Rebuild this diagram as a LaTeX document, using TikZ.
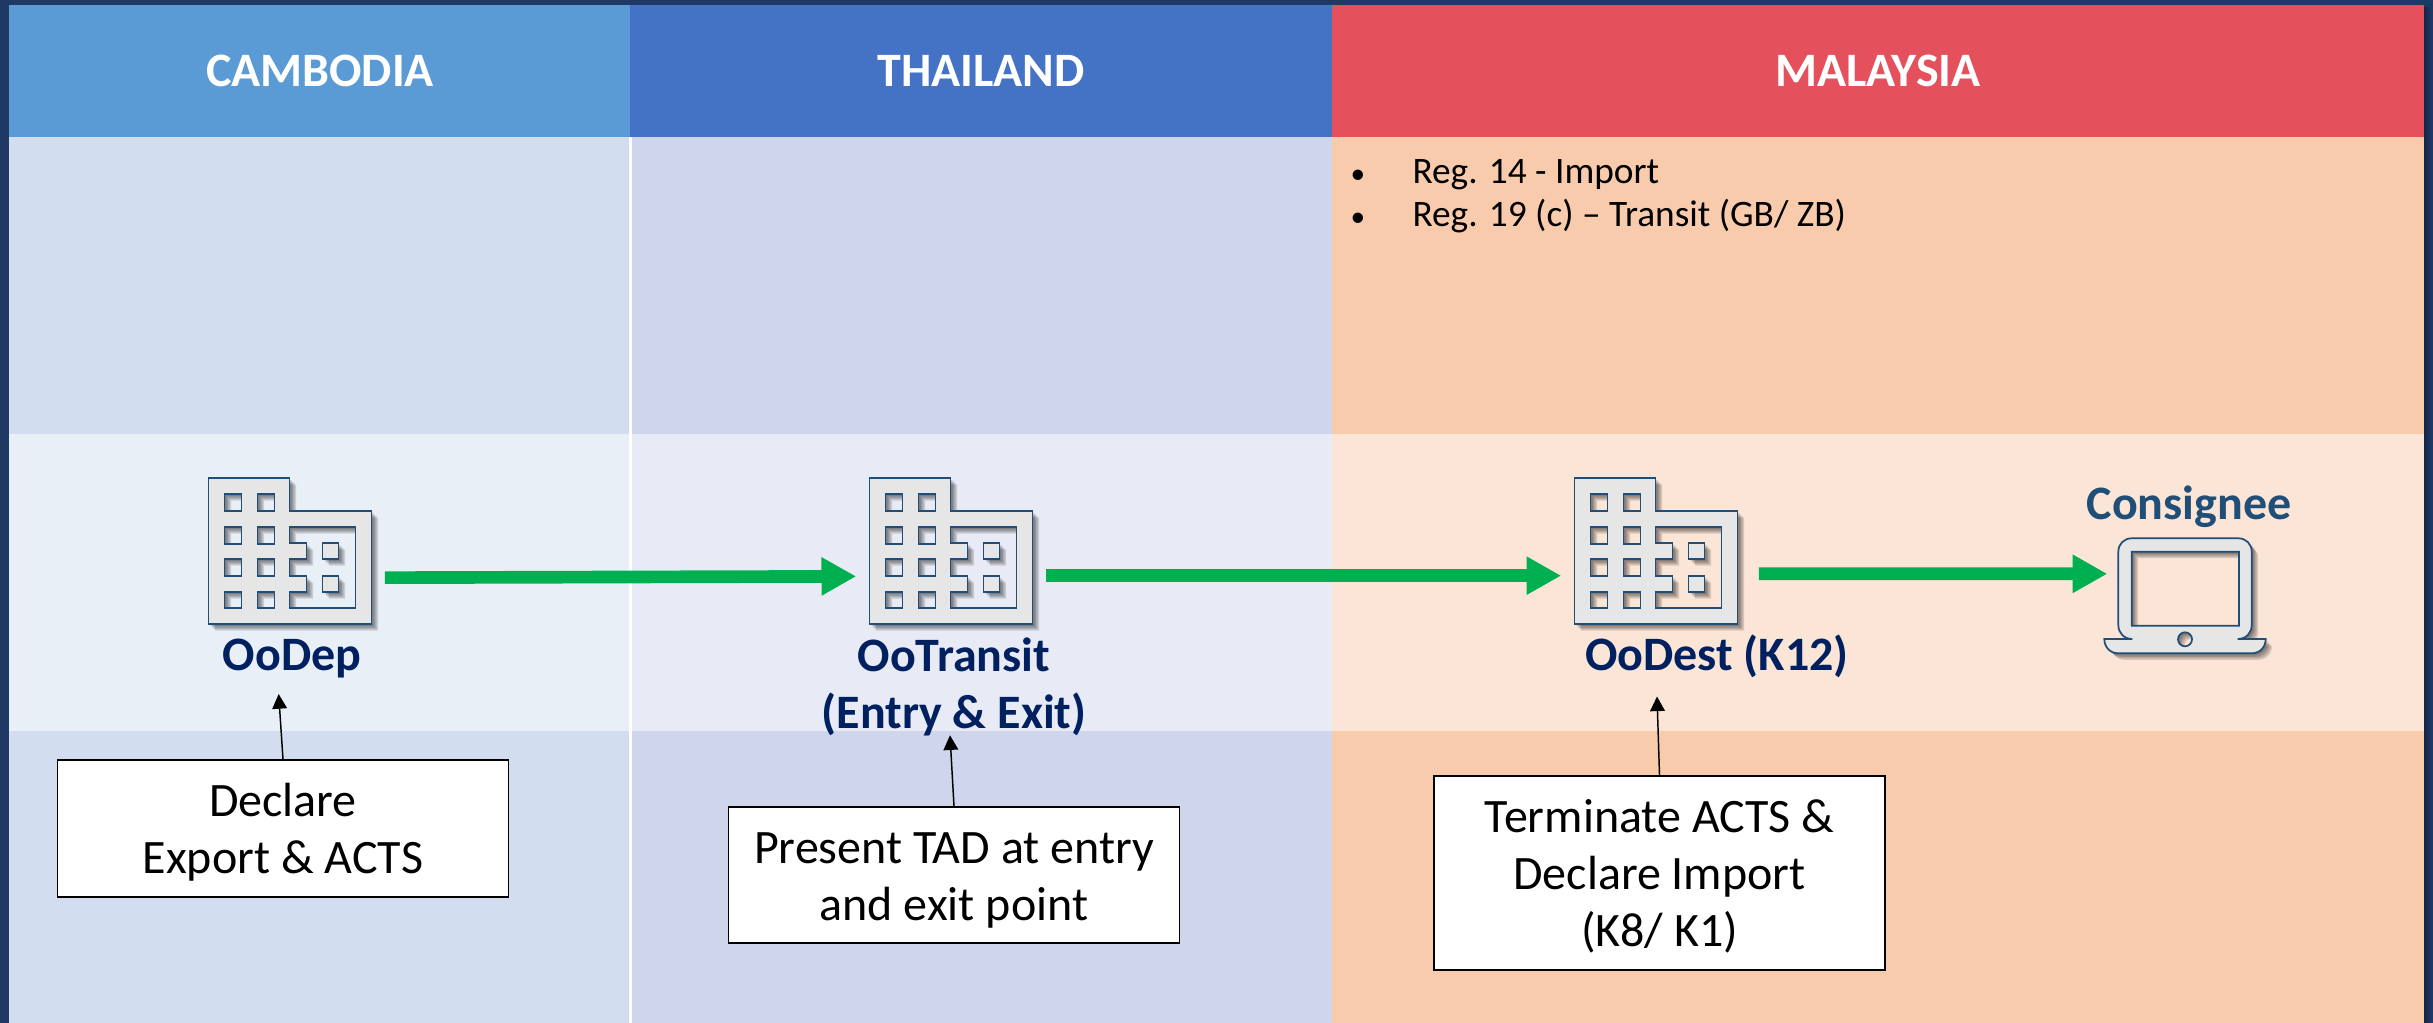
\documentclass[tikz,border=0pt]{standalone}
\usepackage{fontspec}
\setmainfont{Carlito}
\usetikzlibrary{arrows.meta}
\tikzset{every picture/.style={line width=0.75pt}}
\tikzset{
	head label/.style={font=\fontsize{36}{42.75}\selectfont\bfseries, color=white},
	office label/.style={font=\fontsize{36}{42.75}\selectfont\bfseries, color={rgb, 255:red, 0; green, 32; blue, 96 }, align=center, inner sep=0pt},
	note box/.style={draw=black, fill=white, line width=1.2pt, align=center, font=\fontsize{36}{42.75}\selectfont, minimum width=338pt, inner sep=0pt},
	office box/.style={minimum width=122.25pt, minimum height=109.5pt, inner sep=0pt, outer xsep=10pt},
	flow/.style={color={rgb, 255:red, 0; green, 176; blue, 80 }, line width=9.5pt, -{Triangle[length=26pt,width=27pt]}},
	note arrow/.style={color=black, line width=1.1pt, -{Triangle[length=11pt,width=11pt]}},
	icon fill/.style={fill={rgb, 255:red, 230; green, 230; blue, 230 }, draw={rgb, 255:red, 31; green, 78; blue, 121 }, line width=1.3pt, even odd rule}
}
% outline of the office, 163 wide and 146 high
\newcommand{\officepath}{
	(0,0) -- (81,0) -- (81,33) -- (163,33) -- (163,146) -- (0,146) -- cycle
	(16,16) rectangle (33,33) (49,16) rectangle (66,33)
	(16,49) rectangle (33,66) (49,49) rectangle (66,66)
	(16,81) rectangle (33,98) (49,81) rectangle (66,98)
	(16,114) rectangle (33,130) (49,114) rectangle (66,130)
	(81,49) -- (147,49) -- (147,130) -- (81,130) -- (81,114) -- (98,114) -- (98,98) -- (81,98) -- (81,81) -- (98,81) -- (98,65) -- (81,65) -- cycle
	(114,65) rectangle (130,81) (114,98) rectangle (130,114)
}
\newcommand{\laptoppath}{
	(2104.3,639) -- (2132.3,639) .. controls (2124,639) and (2118.3,633) .. (2118.3,625) -- (2118.3,551.7) .. controls (2118.3,544) and (2124,538.3) .. (2131.7,538.3) -- (2238.3,538.3) .. controls (2246,538.3) and (2251.7,544) .. (2251.7,551.7) -- (2251.7,625) .. controls (2251.7,633) and (2246,639) .. (2237.7,639) -- (2265.7,639) .. controls (2265.7,647) and (2260,653.3) .. (2251.7,653.3) -- (2118.3,653.3) .. controls (2110,653.3) and (2104.3,647) .. (2104.3,639) -- cycle
	(2131.7,551.7) rectangle (2239,625.7)
	(2185,639.3) circle (7)
}
\newcommand{\drawoffice}[2]{
	\begin{scope}[shift={(#1,#2)}]
		\foreach \o in {2,3.5,5,6.5} {\fill [black, fill opacity=0.14, even odd rule, shift={(\o,\o)}] \officepath;}
		\draw [icon fill] \officepath;
	\end{scope}
}

\begin{document}
\begin{tikzpicture}[x=0.75pt,y=0.75pt,yscale=-1,xscale=1]
	\useasboundingbox (0,0) rectangle (2433,1023);

	%Background
	\fill [color={rgb, 255:red, 31; green, 56; blue, 100 }] (0,0) rectangle (2433,1023);
	\shade [left color={rgb, 255:red, 20; green, 38; blue, 72 }, right color={rgb, 255:red, 31; green, 56; blue, 100 }] (2424,8) rectangle (2431,1023);

	%Header cells
	\fill [color={rgb, 255:red, 91; green, 155; blue, 213 }] (9,5) rectangle (631,138);
	\fill [color={rgb, 255:red, 68; green, 114; blue, 196 }] (629.5,5) rectangle (1334,138);
	\fill [color={rgb, 255:red, 228; green, 80; blue, 92 }] (1332,5) rectangle (2424,138);
	%Top and bottom cells
	\fill [color={rgb, 255:red, 210; green, 222; blue, 239 }] (9,137) rectangle (630,1023);
	\fill [color={rgb, 255:red, 207; green, 213; blue, 234 }] (631,137) rectangle (1334,1023);
	\fill [color={rgb, 255:red, 248; green, 203; blue, 173 }] (1332,137) rectangle (2424,1023);
	%Middle band
	\fill [color={rgb, 255:red, 233; green, 239; blue, 247 }] (9,433.5) rectangle (630,731);
	\fill [color={rgb, 255:red, 232; green, 235; blue, 245 }] (631,433.5) rectangle (1334,731);
	\fill [color={rgb, 255:red, 251; green, 229; blue, 215 }] (1332,433.5) rectangle (2424,731);
	%White line
	\fill [color=white] (629,137) rectangle (632,1023);

	% Text Node
	\draw (320,71) node [head label] (cambodia) {CAMBODIA};
	% Text Node
	\draw (981,71) node [head label] (thailand) {THAILAND};
	% Text Node
	\draw (1878,71) node [head label] (malaysia) {MALAYSIA};
	% Text Node
	\draw (1350,196) node [anchor=west, align=left, inner sep=0pt, font=\fontsize{28}{32.25}\selectfont] (regs) {\makebox[46.5pt][l]{\fontsize{22}{22}\selectfont\textbullet}Reg. 14 - Import\\\makebox[46.5pt][l]{\fontsize{22}{22}\selectfont\textbullet}Reg. 19 (c) -- Transit (GB/ ZB)};

	%Offices
	\drawoffice{208.5}{478}
	\drawoffice{869.5}{478}
	\drawoffice{1574.5}{478}
	\draw (290,551) node [office box] (oodep) {};
	\draw (951,551) node [office box] (ootransit) {};
	\draw (1656,551) node [office box] (oodest) {};

	%Laptop
	\foreach \o in {2,3.5,5,6.5} {\fill [black, fill opacity=0.14, even odd rule, shift={(\o,\o)}] \laptoppath;}
	\draw [icon fill] \laptoppath;
	\draw (2185,588.5) node [minimum width=100.5pt, minimum height=86pt, inner sep=0pt, outer xsep=8pt] (laptop) {};

	% Text Node
	\draw (292,670) node [office label, anchor=base] (oodep label) {OoDep};
	% Text Node
	\draw (954,687) node [office label] (ootransit label) {OoTransit\\(Entry \& Exit)};
	% Text Node
	\draw (1717,670) node [office label, anchor=base] (oodest label) {OoDest (K12)};
	% Text Node
	\draw (2189,519) node [anchor=base, inner sep=0pt, font=\fontsize{36}{42.75}\selectfont\bfseries, color={rgb, 255:red, 31; green, 78; blue, 121 }] (consignee) {Consignee};

	% Text Node
	\draw (283,828.5) node [note box, minimum height=102.75pt] (declare) {\rule{0pt}{30.5pt}Declare\\Export \& ACTS};
	% Text Node
	\draw (954,875) node [note box, minimum height=102pt] (present) {\rule{0pt}{31pt}Present TAD at entry\\and exit point};
	% Text Node
	\draw (1659.5,873) node [note box, minimum height=145.5pt] (terminate) {\rule{0pt}{29pt}Terminate ACTS \&\\Declare Import\\(K8/ K1)};

	%Green arrows
	\draw [flow] ([yshift=20pt]oodep.east) -- ([yshift=19pt]ootransit.west);
	\draw [flow] ([yshift=18.5pt]ootransit.east) -- ([yshift=18.5pt]oodest.west);
	\draw [flow] ([xshift=6pt,yshift=17pt]oodest.east) -- ([yshift=-11pt]laptop.west);

	%Black arrows
	\draw [note arrow] (declare.north) -- ([xshift=-10pt,yshift=12pt]oodep label.south);
	\draw [note arrow] (present.north) -- ([xshift=-3pt,yshift=-1pt]ootransit label.south);
	\draw [note arrow] (terminate.north) -- ([xshift=-45pt,yshift=14pt]oodest label.south);

\end{tikzpicture}
\end{document}
